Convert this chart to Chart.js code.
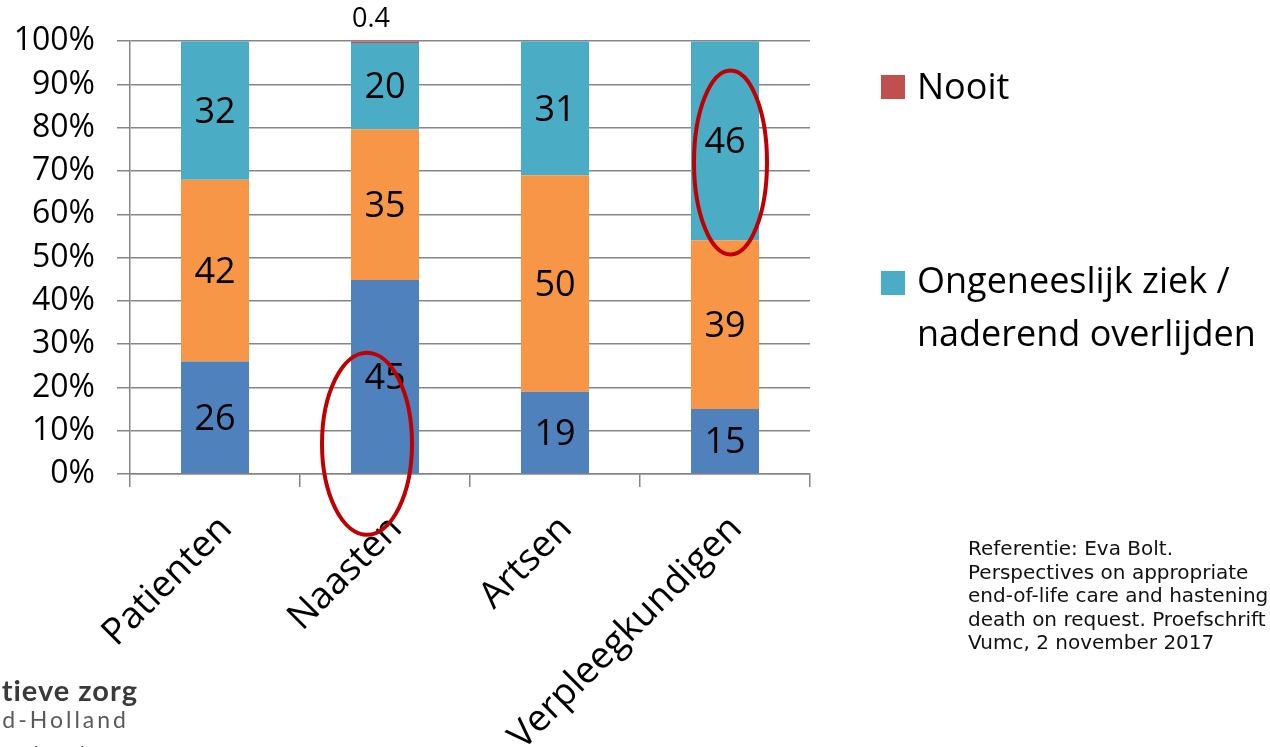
<!DOCTYPE html>
<html lang="nl">
<head>
<meta charset="utf-8">
<title>Wanneer is euthanasie aanvaardbaar</title>
<script src="https://cdn.jsdelivr.net/npm/chart.js@4.4.0/dist/chart.umd.min.js"></script>
<style>
  html, body { margin: 0; padding: 0; background: #fff; }
  #wrap { position: relative; width: 1270px; height: 747px; overflow: hidden; background: #fff; }
  #chart { position: absolute; left: 0; top: 0; }
  .sw { position: absolute; width: 24px; height: 24px; }
  .leg { position: absolute; left: 917px; font-family: 'Open Sans', sans-serif; font-size: 36px; color: #000; white-space: nowrap; }
  #ref { position: absolute; left: 968px; top: 537px; font-family: 'DejaVu Sans', sans-serif; font-size: 20px; line-height: 23.5px; color: #111; white-space: nowrap; }
  .logo { position: absolute; white-space: nowrap; text-align: right; font-family: Lato, sans-serif; }
</style>
</head>
<body>
<div id="wrap">
  <canvas id="chart" width="1270" height="747"></canvas>

  <div class="sw" style="left:881px; top:75px; background:#C0504D;"></div>
  <div class="leg" style="top:68px; line-height:36px;">Nooit</div>
  <div class="sw" style="left:881px; top:271px; background:#4BACC6;"></div>
  <div class="leg" style="top:253px; line-height:53px;">Ongeneeslijk ziek /<br>naderend overlijden</div>

  <div id="ref">Referentie: Eva Bolt.<br>Perspectives on appropriate<br>end-of-life care and hastening<br>death on request. Proefschrift<br>Vumc, 2 november 2017</div>

  <div class="logo" style="right:1132px; top:672px; font-size:29px; letter-spacing:1px; font-weight:700; color:#3a3a3a;">Netwerk palliatieve zorg</div>
  <div class="logo" style="right:1141px; top:705px; font-size:23px; letter-spacing:3px; color:#5a5a5a;">Noord-Holland</div>
  <div class="logo" style="right:1182px; top:740px; font-size:23px; letter-spacing:3px; color:#5a5a5a;">Flevoland</div>
</div>

<script>
// Respondent groups along the x axis
const categories = ['Patienten', 'Naasten', 'Artsen', 'Verpleegkundigen'];

// Answers per group, in percent (bottom to top of each stack)
const reeks1 = [26, 45, 19, 15];
const reeks2 = [42, 35, 50, 39];
const ongeneeslijkZiek = [32, 20, 31, 46];
const nooit = [0, 0.4, 0, 0];

// Y axis tick labels
const yTickLabels = ['0%', '10%', '20%', '30%', '40%', '50%', '60%', '70%', '80%', '90%', '100%'];

const series = [
  { label: 'Reeks 1', values: reeks1, color: '#4F81BD' },
  { label: 'Reeks 2', values: reeks2, color: '#F79646' },
  { label: 'Ongeneeslijk ziek / naderend overlijden', values: ongeneeslijkZiek, color: '#4BACC6' },
  { label: 'Nooit', values: nooit, color: '#C0504D', labelAbove: true }
];

// 100% stacking: each group's answers are scaled to its own total
const totals = categories.map((_, i) => series.reduce((s, d) => s + d.values[i], 0));

const GRID = '#868686';

// Writes the answer value on each bar segment
const valueLabels = {
  id: 'valueLabels',
  afterDatasetsDraw(chart) {
    const ctx = chart.ctx;
    chart.data.datasets.forEach((ds, di) => {
      const meta = chart.getDatasetMeta(di);
      meta.data.forEach((bar, i) => {
        const v = ds.raw[i];
        if (!v) return;
        ctx.save();
        ctx.fillStyle = '#000';
        ctx.textAlign = 'center';
        ctx.textBaseline = 'middle';
        if (ds.labelAbove) {
          ctx.font = "27px 'Open Sans'";
          ctx.fillText(String(v), bar.x - 14, bar.y - 22);
        } else {
          ctx.font = "36px 'Open Sans'";
          ctx.fillText(String(v), bar.x, (bar.y + bar.base) / 2 + 2);
        }
        ctx.restore();
      });
    });
  }
};

// Red highlight rings around two bar segments
const highlightRings = {
  id: 'highlightRings',
  afterDatasetsDraw(chart) {
    const { ctx, scales: { x, y } } = chart;
    const rings = [
      { cat: 1, val: 7, dx: -18, rx: 45, ry: 91 },
      { cat: 3, val: 72, dx: 5.5, rx: 36.5, ry: 92 }
    ];
    ctx.save();
    ctx.strokeStyle = '#C00000';
    ctx.lineWidth = 4;
    rings.forEach(r => {
      ctx.beginPath();
      ctx.ellipse(x.getPixelForValue(r.cat) + r.dx, y.getPixelForValue(r.val), r.rx, r.ry, 0, 0, Math.PI * 2);
      ctx.stroke();
    });
    ctx.restore();
  }
};

new Chart(document.getElementById('chart'), {
  type: 'bar',
  data: {
    labels: categories,
    datasets: series.map(s => ({
      label: s.label,
      raw: s.values,
      labelAbove: !!s.labelAbove,
      data: s.values.map((v, i) => v / totals[i] * 100),
      backgroundColor: s.color,
      borderWidth: 0,
      barPercentage: 0.4,
      categoryPercentage: 1
    }))
  },
  options: {
    responsive: false,
    animation: false,
    devicePixelRatio: 1,
    layout: { padding: { top: 39, right: 460, left: 0, bottom: 0 } },
    plugins: { legend: { display: false }, tooltip: { enabled: false } },
    scales: {
      x: {
        stacked: true,
        grid: { display: true, drawOnChartArea: false, drawTicks: true, tickLength: 13, color: GRID, lineWidth: 1.5, offset: true },
        border: { display: true, color: GRID, width: 1.5 },
        ticks: {
          color: '#000',
          font: { family: "'Open Sans'", size: 37 },
          minRotation: 45, maxRotation: 45,
          autoSkip: false,
          padding: 20,
          labelOffset: 11
        },
        afterFit(scale) { scale.height = 273; }
      },
      y: {
        stacked: true,
        min: 0, max: 100,
        grid: { color: GRID, lineWidth: 1.5, tickLength: 13, drawTicks: true },
        border: { display: true, color: GRID, width: 1.5 },
        ticks: {
          stepSize: 10,
          color: '#000',
          font: { family: "'Open Sans'", size: 32 },
          padding: 22,
          callback: (v) => yTickLabels[Math.round(v / 10)]
        },
        afterFit(scale) { scale.width = 130; }
      }
    }
  },
  plugins: [valueLabels, highlightRings]
});
</script>
</body>
</html>
